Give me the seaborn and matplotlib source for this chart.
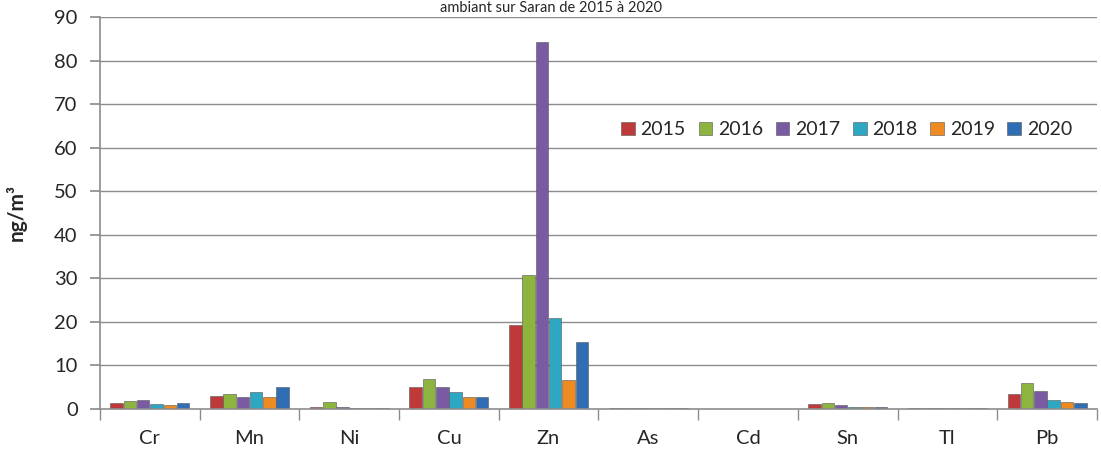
import matplotlib
matplotlib.use("Agg")
import matplotlib.pyplot as plt
import seaborn as sns
import pandas as pd
import numpy as np

elements = ["Cr", "Mn", "Ni", "Cu", "Zn", "As", "Cd", "Sn", "Tl", "Pb"]
years = ["2015", "2016", "2017", "2018", "2019", "2020"]
v2015 = [1.3, 3.1, 0.55, 5.1, 19.4, 0.2, 0.1, 1.15, 0.2, 3.5]
v2016 = [1.8, 3.4, 1.55, 7.0, 30.7, 0.2, 0.1, 1.3, 0.2, 6.0]
v2017 = [2.1, 2.8, 0.5, 5.1, 84.2, 0.3, 0.1, 0.9, 0.2, 4.1]
v2018 = [1.15, 3.9, 0.3, 3.8, 20.9, 0.2, 0.1, 0.5, 0.2, 2.1]
v2019 = [0.9, 2.75, 0.3, 2.8, 6.7, 0.2, 0.1, 0.4, 0.2, 1.7]
v2020 = [1.3, 5.1, 0.2, 2.8, 15.4, 0.2, 0.1, 0.4, 0.2, 1.3]
colors = ["#BE3A3A", "#8DB43E", "#7B5AA4", "#2EA7C3", "#EE8A22", "#2F6DB5"]

series = [v2015, v2016, v2017, v2018, v2019, v2020]
rows = []
for y, vals in zip(years, series):
    for e, v in zip(elements, vals):
        rows.append({"element": e, "year": y, "value": v})
df = pd.DataFrame(rows)

sns.set_theme(style="white")
plt.rcParams["font.family"] = ["Lato", "DejaVu Sans"]

fig = plt.figure(figsize=(11.01, 4.54), dpi=100)
ax = fig.add_axes([0.0908, 0.0991, 0.9055, 0.8635])
ax.set_axisbelow(True)
for yv in range(10, 100, 10):
    ax.axhline(yv, color="#8c8c8c", lw=1, zorder=0)

sns.barplot(data=df, x="element", y="value", hue="year", order=elements,
            hue_order=years, palette=colors, width=0.8, gap=0.06,
            edgecolor="#555555", linewidth=0.4, ax=ax, saturation=1)

ax.set_xlim(-0.5, 9.5)
ax.set_ylim(0, 90)
ax.set_yticks(range(0, 100, 10))
ax.set_xlabel("")
ax.set_ylabel("ng/m³", fontsize=15, fontweight="bold", labelpad=20)
ax.tick_params(axis="y", labelsize=14.5, length=7, color="#8c8c8c", direction="out", left=True, pad=9)
ax.tick_params(axis="x", labelsize=14.5, length=0, pad=15)
ax.set_xticks(np.arange(-0.5, 10, 1), minor=True)
ax.tick_params(axis="x", which="minor", length=8, color="#8c8c8c", bottom=True, direction="out")
for s in ["top", "right"]:
    ax.spines[s].set_visible(False)
for s in ["left", "bottom"]:
    ax.spines[s].set_color("#8c8c8c")
    ax.spines[s].set_linewidth(1.2)

leg = ax.legend(loc="center left", bbox_to_anchor=(0.515, 0.712), ncol=6, frameon=False,
                fontsize=14, handlelength=0.7, handleheight=0.7, handletextpad=0.3,
                columnspacing=0.65, borderaxespad=0)

fig.text(0.5, 1 - 1 / 454, "ambiant sur Saran de 2015 à 2020", ha="center", va="top",
         fontsize=10.5)

fig.savefig("out.png", dpi=100)
